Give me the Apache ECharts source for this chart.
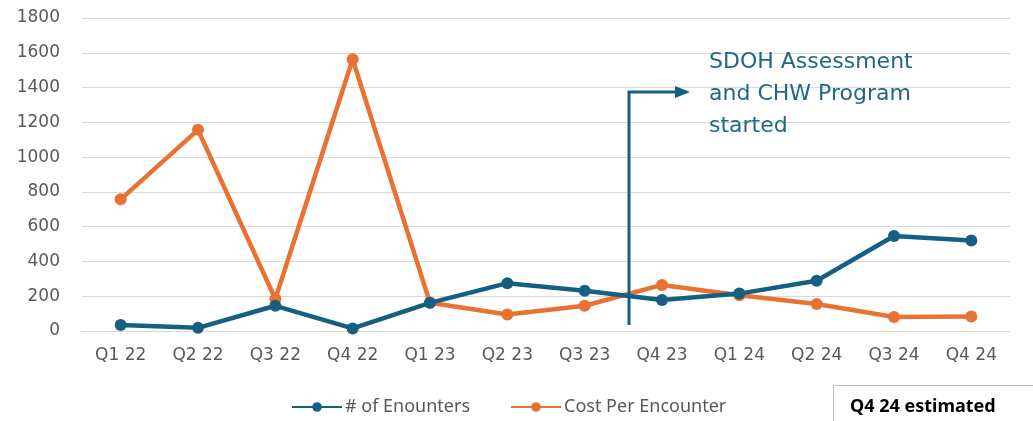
<!DOCTYPE html>
<html>
<head>
<meta charset="utf-8">
<script src="https://cdn.jsdelivr.net/npm/echarts@6/dist/echarts.min.js"></script>
<style>
  html, body { margin: 0; padding: 0; background: #ffffff; }
  #chart { width: 1033px; height: 421px; }
</style>
</head>
<body>
<div id="chart"></div>
<script>
// Quarterly categories
const quarters = ['Q1 22', 'Q2 22', 'Q3 22', 'Q4 22', 'Q1 23', 'Q2 23', 'Q3 23', 'Q4 23', 'Q1 24', 'Q2 24', 'Q3 24', 'Q4 24'];
// Number of encounters per quarter
const encounters = [35, 18, 145, 15, 162, 275, 232, 178, 215, 289, 546, 520];
// Cost per encounter per quarter
const costPerEncounter = [757, 1157, 184, 1563, 162, 95, 145, 265, 205, 155, 80, 84];
// Y axis scale
const yMin = 0, yMax = 1800, yStep = 200;
// Annotation text
const noteLines = ['SDOH Assessment', 'and CHW Program', 'started'];
const footNote = 'Q4 24 estimated';

const BLUE = '#156082';
const ORANGE = '#E97132';
const AXIS_FONT = '"DejaVu Sans", sans-serif';
const FONT = '"Noto Sans", "Open Sans", sans-serif';

const chart = echarts.init(document.getElementById('chart'));

const option = {
  animation: false,
  backgroundColor: '#ffffff',
  grid: { left: 82, right: 23, top: 18, bottom: 90, containLabel: false },
  xAxis: {
    type: 'category',
    data: quarters,
    boundaryGap: true,
    axisLine: { show: true, lineStyle: { color: '#d9d9d9', width: 1 } },
    axisTick: { show: false },
    axisLabel: { color: '#595959', fontSize: 17, fontFamily: AXIS_FONT, margin: 16 }
  },
  yAxis: {
    type: 'value',
    min: yMin, max: yMax, interval: yStep,
    axisLine: { show: false },
    axisTick: { show: false },
    splitLine: { lineStyle: { color: '#d9d9d9', width: 1 } },
    axisLabel: {
      color: '#595959', fontSize: 17, fontFamily: AXIS_FONT, margin: 22,
      formatter: v => String(v)
    }
  },
  legend: {
    bottom: 0,
    left: 286,
    itemWidth: 50,
    itemHeight: 12,
    itemGap: 40,
    textStyle: { color: '#595959', fontSize: 18, fontFamily: FONT, padding: [0, 0, 0, -2] },
    data: ['# of Enounters', 'Cost Per Encounter']
  },
  series: [
    {
      name: '# of Enounters',
      type: 'line',
      data: encounters,
      symbol: 'circle',
      symbolSize: 12,
      z: 3,
      lineStyle: { color: BLUE, width: 4.5 },
      itemStyle: { color: BLUE }
    },
    {
      name: 'Cost Per Encounter',
      type: 'line',
      data: costPerEncounter,
      symbol: 'circle',
      symbolSize: 12,
      z: 2,
      lineStyle: { color: ORANGE, width: 4.5 },
      itemStyle: { color: ORANGE }
    }
  ]
};

chart.setOption(option);

// Program start marker: drawn just past the midpoint between Q3 23 and Q4 23
const xA = chart.convertToPixel({ xAxisIndex: 0 }, 'Q3 23');
const xB = chart.convertToPixel({ xAxisIndex: 0 }, 'Q4 23');
const mx = Math.round(xA + (xB - xA) * 0.57);
const yBottom = chart.convertToPixel({ yAxisIndex: 0 }, 35);
const yTop = chart.convertToPixel({ yAxisIndex: 0 }, 1375);

chart.setOption({
  graphic: [
    {
      type: 'polyline',
      shape: { points: [[mx, yBottom], [mx, yTop], [mx + 48, yTop]] },
      style: { stroke: BLUE, lineWidth: 3, fill: null },
      z: 10
    },
    {
      type: 'polygon',
      shape: { points: [[mx + 46, yTop - 6], [mx + 61, yTop], [mx + 46, yTop + 6]] },
      style: { fill: BLUE },
      z: 10
    },
    {
      type: 'text',
      left: 709,
      top: 46,
      style: {
        text: noteLines.join('\n'),
        fill: '#1f6785',
        font: '22px "DejaVu Sans", sans-serif',
        lineHeight: 32
      },
      z: 10
    },
    {
      type: 'rect',
      shape: { x: 833.5, y: 385.5, width: 210, height: 40 },
      style: { fill: '#ffffff', stroke: '#bfbfbf', lineWidth: 1 },
      z: 10
    },
    {
      type: 'text',
      left: 850,
      top: 398,
      style: {
        text: footNote,
        fill: '#000000',
        font: 'bold 18px "Noto Sans", sans-serif'
      },
      z: 11
    }
  ]
});
</script>
</body>
</html>
